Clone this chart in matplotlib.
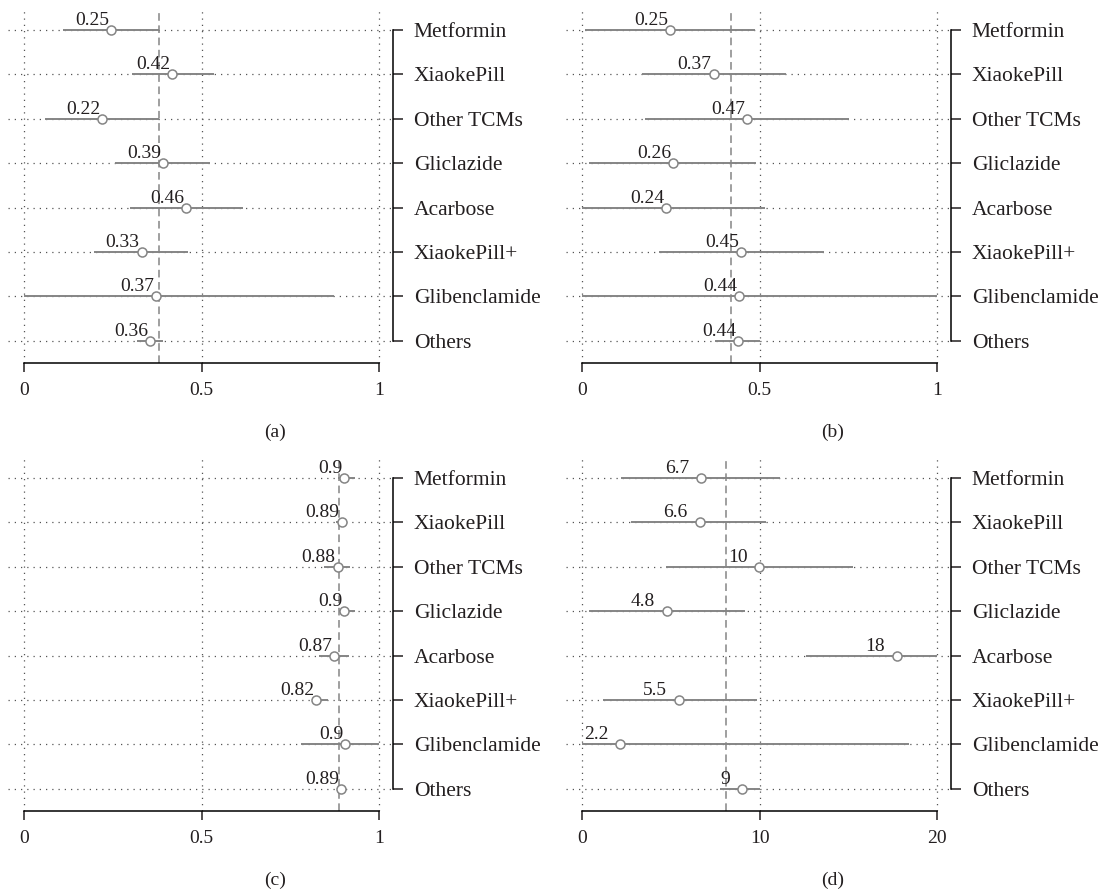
import numpy as np
import matplotlib.pyplot as plt

plt.rcParams['font.family'] = ['Liberation Serif', 'DejaVu Serif']
plt.rcParams['font.size'] = 14
plt.rcParams['text.color'] = '#231f20'
plt.rcParams['xtick.color'] = '#231f20'
plt.rcParams['ytick.color'] = '#231f20'

drugs = ["Metformin", "XiaokePill", "Other TCMs", "Gliclazide",
         "Acarbose", "XiaokePill+", "Glibenclamide", "Others"]

# (a)
est_a = [0.246, 0.418, 0.220, 0.392, 0.457, 0.331, 0.372, 0.356]
low_a = [0.111, 0.305, 0.059, 0.256, 0.298, 0.198, 0.0, 0.317]
high_a = [0.379, 0.536, 0.379, 0.525, 0.616, 0.462, 0.873, 0.392]
ref_a = 0.379

# (b)
est_b = [0.249, 0.371, 0.466, 0.257, 0.237, 0.449, 0.442, 0.44]
low_b = [0.009, 0.169, 0.178, 0.019, 0.0, 0.216, 0.0, 0.375]
high_b = [0.488, 0.575, 0.751, 0.491, 0.514, 0.681, 1.0, 0.5]
ref_b = 0.419

# (c)
est_c = [0.902, 0.894, 0.883, 0.902, 0.873, 0.822, 0.904, 0.892]
low_c = [0.885, 0.878, 0.844, 0.887, 0.830, 0.810, 0.780, 0.882]
high_c = [0.932, 0.910, 0.918, 0.932, 0.916, 0.857, 0.998, 0.902]
ref_c = 0.887

# (d)
est_d = [6.70, 6.63, 9.99, 4.81, 17.75, 5.48, 2.16, 9.0]
low_d = [2.21, 2.76, 4.73, 0.38, 12.64, 1.16, 0.0, 7.79]
high_d = [11.17, 10.38, 15.27, 9.16, 20.0, 9.86, 18.4, 10.05]
ref_d = 8.11

ticks_prop = [0, 0.5, 1]
ticklabels_prop = ["0", "0.5", "1"]
ticks_d = [0, 10, 20]
ticklabels_d = ["0", "10", "20"]

GREY = '#858585'


def draw_panel(ax, est, low, high, ref, ticks, tick_labels, label_dx):
    rows = np.arange(len(drugs))
    lo, hi = ticks[0], ticks[-1]
    span = hi - lo
    ax.set_xlim(lo - 0.045 * span, hi + 0.0386 * span)
    ax.set_ylim(7.5, -0.45)

    ax.grid(True, ls=(0, (1, 4)), color='#555555', lw=0.9)
    ax.set_axisbelow(True)

    ax.axvline(ref, color=GREY, lw=1.1, ls=(0, (5, 3)), zorder=2)
    ax.hlines(rows, low, high, color=GREY, lw=1.4, zorder=3)
    ax.plot(est, rows, 'o', mfc='white', mec=GREY, ms=6.5, mew=1.1, zorder=4)
    for x, y in zip(est, rows):
        ax.annotate(f"{x:.2g}", (x, y), xytext=(label_dx, 5),
                    textcoords='offset pixels', ha='right', va='baseline')

    ax.set_xticks(ticks)
    ax.set_xticklabels(tick_labels)
    ax.set_yticks(rows)
    ax.set_yticklabels(drugs)
    ax.yaxis.tick_right()

    ax.spines['top'].set_visible(False)
    ax.spines['left'].set_visible(False)
    ax.spines['bottom'].set_bounds(lo, hi)
    ax.spines['right'].set_bounds(0, len(drugs) - 1)
    ax.spines['bottom'].set_linewidth(1.1)
    ax.spines['right'].set_linewidth(1.1)
    ax.tick_params(axis='x', direction='out', length=6.5, width=1.1, pad=7)
    ax.tick_params(axis='y', direction='out', length=7, width=1.1, pad=8,
                   labelsize=15.5, right=True, left=False,
                   labelright=True, labelleft=False)


fig = plt.figure(figsize=(11.03, 8.94), dpi=100)

w, h = 0.349, 0.3949
ax_a = fig.add_axes([0.00725, 0.594, w, h])
ax_b = fig.add_axes([0.5131, 0.594, w, h])
ax_c = fig.add_axes([0.00725, 0.0928, w, h])
ax_d = fig.add_axes([0.5131, 0.0928, w, h])

draw_panel(ax_a, est_a, low_a, high_a, ref_a, ticks_prop, ticklabels_prop, -2)
draw_panel(ax_b, est_b, low_b, high_b, ref_b, ticks_prop, ticklabels_prop, -2)
draw_panel(ax_c, est_c, low_c, high_c, ref_c, ticks_prop, ticklabels_prop, -2)
draw_panel(ax_d, est_d, low_d, high_d, ref_d, ticks_d, ticklabels_d, -12)

fig.text(0.2493, 0.5168, "(a)", ha='center', va='center')
fig.text(0.755, 0.5168, "(b)", ha='center', va='center')
fig.text(0.2493, 0.0157, "(c)", ha='center', va='center')
fig.text(0.755, 0.0157, "(d)", ha='center', va='center')

fig.savefig("out.png", dpi=100)
